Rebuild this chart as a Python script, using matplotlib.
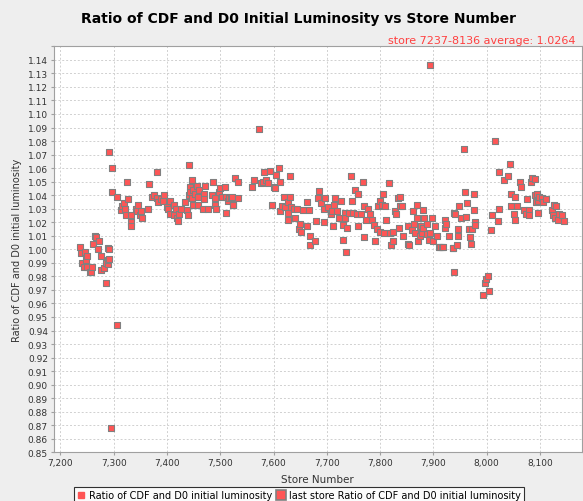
import matplotlib
matplotlib.use("Agg")
import matplotlib.pyplot as plt
from matplotlib.lines import Line2D
from matplotlib.ticker import MultipleLocator, FuncFormatter

#### data ####
stores = [
    7237, 7239, 7241, 7244, 7247, 7248, 7249, 7249, 7255, 7258, 7259, 7262, 7264, 7266,
    7270, 7272, 7276, 7277, 7281, 7286, 7286, 7289, 7289, 7290, 7292, 7292, 7292, 7294,
    7296, 7296, 7306, 7307, 7314, 7316, 7320, 7322, 7323, 7325, 7326, 7332, 7333, 7333,
    7341, 7344, 7346, 7349, 7352, 7353, 7365, 7366, 7372, 7375, 7381, 7381, 7384, 7389,
    7392, 7394, 7400, 7401, 7405, 7406, 7413, 7414, 7416, 7419, 7421, 7423, 7427, 7433,
    7438, 7440, 7441, 7441, 7443, 7444, 7447, 7447, 7448, 7448, 7452, 7456, 7458, 7458,
    7460, 7468, 7469, 7469, 7471, 7477, 7485, 7486, 7490, 7491, 7492, 7497, 7500, 7503,
    7508, 7511, 7511, 7515, 7516, 7521, 7522, 7523, 7524, 7528, 7534, 7534, 7560, 7563,
    7573, 7577, 7580, 7583, 7585, 7589, 7594, 7597, 7600, 7602, 7605, 7610, 7613, 7613,
    7616, 7619, 7622, 7627, 7627, 7628, 7630, 7630, 7633, 7638, 7641, 7644, 7647, 7650,
    7652, 7656, 7662, 7663, 7666, 7668, 7669, 7678, 7680, 7683, 7685, 7689, 7694, 7694,
    7697, 7703, 7707, 7710, 7712, 7714, 7716, 7719, 7722, 7727, 7730, 7731, 7735, 7735,
    7736, 7738, 7741, 7746, 7747, 7750, 7753, 7756, 7759, 7759, 7765, 7768, 7769, 7770,
    7774, 7778, 7782, 7785, 7788, 7791, 7794, 7796, 7799, 7800, 7803, 7805, 7807, 7810,
    7812, 7817, 7818, 7820, 7824, 7825, 7828, 7829, 7833, 7835, 7838, 7838, 7841, 7843,
    7853, 7853, 7855, 7860, 7862, 7863, 7866, 7869, 7870, 7872, 7874, 7875, 7876, 7878,
    7881, 7881, 7883, 7888, 7888, 7891, 7893, 7893, 7898, 7900, 7904, 7907, 7910, 7912,
    7917, 7918, 7921, 7921, 7923, 7929, 7936, 7937, 7938, 7939, 7941, 7944, 7947, 7947,
    7949, 7951, 7957, 7960, 7962, 7964, 7966, 7969, 7970, 7972, 7977, 7977, 7979, 7979,
    7993, 7997, 7999, 8002, 8004, 8008, 8010, 8016, 8022, 8024, 8024, 8033, 8040, 8043,
    8045, 8046, 8051, 8054, 8054, 8057, 8062, 8064, 8071, 8074, 8076, 8080, 8080, 8084,
    8085, 8090, 8091, 8093, 8094, 8096, 8097, 8099, 8103, 8105, 8112, 8122, 8124, 8127,
    8128, 8131, 8134, 8136, 8142, 8145,
]
ratios = [
    1.002, 0.997, 0.990, 0.987, 0.998, 0.992, 0.995, 0.987, 0.983, 0.983, 0.987, 1.004, 1.010, 1.009,
    1.000, 1.006, 0.985, 0.995, 0.986, 0.990, 0.975, 1.001, 0.989, 0.992, 0.993, 1.000, 1.072, 0.868,
    1.060, 1.042, 1.039, 0.944, 1.029, 1.032, 1.034, 1.030, 1.025, 1.050, 1.037, 1.020, 1.025, 1.017,
    1.030, 1.028, 1.033, 1.025, 1.028, 1.023, 1.030, 1.048, 1.039, 1.040, 1.057, 1.038, 1.035, 1.037,
    1.036, 1.040, 1.031, 1.030, 1.036, 1.026, 1.033, 1.025, 1.030, 1.023, 1.021, 1.026, 1.030, 1.035,
    1.029, 1.025, 1.062, 1.040, 1.046, 1.042, 1.051, 1.038, 1.044, 1.033, 1.041, 1.047, 1.039, 1.033,
    1.044, 1.030, 1.041, 1.037, 1.047, 1.030, 1.040, 1.050, 1.033, 1.038, 1.030, 1.042, 1.045, 1.039,
    1.046, 1.039, 1.027, 1.036, 1.038, 1.038, 1.039, 1.033, 1.033, 1.053, 1.050, 1.038, 1.046, 1.051,
    1.089, 1.049, 1.050, 1.057, 1.051, 1.049, 1.058, 1.033, 1.046, 1.045, 1.055, 1.060, 1.050, 1.028,
    1.032, 1.039, 1.031, 1.035, 1.022, 1.027, 1.054, 1.039, 1.031, 1.030, 1.023, 1.030, 1.015, 1.019,
    1.013, 1.029, 1.035, 1.017, 1.029, 1.003, 1.010, 1.006, 1.021, 1.038, 1.043, 1.034, 1.030, 1.020,
    1.038, 1.031, 1.026, 1.028, 1.017, 1.033, 1.038, 1.028, 1.023, 1.036, 1.007, 1.018, 1.027, 1.023,
    0.998, 1.016, 1.027, 1.054, 1.036, 1.027, 1.044, 1.026, 1.041, 1.017, 1.026, 1.050, 1.032, 1.009,
    1.022, 1.030, 1.026, 1.022, 1.018, 1.006, 1.015, 1.032, 1.013, 1.036, 1.033, 1.041, 1.012, 1.032,
    1.022, 1.049, 1.012, 1.003, 1.006, 1.013, 1.028, 1.026, 1.038, 1.016, 1.032, 1.039, 1.032, 1.010,
    1.004, 1.017, 1.003, 1.014, 1.028, 1.019, 1.012, 1.033, 1.023, 1.006, 1.017, 1.010, 1.017, 1.012,
    1.016, 1.029, 1.023, 1.011, 1.019, 1.007, 1.136, 1.012, 1.023, 1.006, 1.017, 1.010, 1.002, 1.002,
    1.002, 1.002, 1.022, 1.016, 1.019, 1.010, 1.001, 1.001, 1.027, 0.983, 1.026, 1.003, 1.015, 1.010,
    1.032, 1.023, 1.074, 1.042, 1.024, 1.034, 1.015, 1.009, 1.004, 1.015, 1.041, 1.029, 1.020, 1.018,
    0.966, 0.975, 0.978, 0.980, 0.969, 1.014, 1.025, 1.080, 1.021, 1.057, 1.030, 1.051, 1.054, 1.063,
    1.032, 1.041, 1.026, 1.039, 1.022, 1.032, 1.050, 1.046, 1.029, 1.026, 1.037, 1.029, 1.025, 1.050,
    1.053, 1.052, 1.040, 1.035, 1.041, 1.027, 1.036, 1.039, 1.038, 1.035, 1.037, 1.029, 1.025, 1.033,
    1.023, 1.032, 1.022, 1.026, 1.025, 1.021,
]

title = 'Ratio of CDF and D0 Initial Luminosity vs Store Number'
subtitle = 'store 7237-8136 average: 1.0264'
series_name = 'Ratio of CDF and D0 initial luminosity'
last_name = 'last store Ratio of CDF and D0 initial luminosity'

red = '#ff5555'
edge = '#808080'

fig = plt.figure(figsize=(5.83, 5.02), dpi=100, facecolor='#eeeeee')
ax = fig.add_axes([53.5/583, 1-453.3/502, (582-53.5)/583, (453.3-47.3)/502])
ax.set_facecolor('white')

ax.scatter(stores, ratios, marker='s', s=18, facecolor=red, edgecolor=edge,
           linewidths=0.8, zorder=3)

ax.set_xlim(7187, 8179)
ax.set_ylim(0.85, 1.15)
ax.xaxis.set_major_locator(MultipleLocator(100))
ax.yaxis.set_major_locator(MultipleLocator(0.01))
ax.xaxis.set_major_formatter(FuncFormatter(lambda v, p: f'{v:,.0f}'))
ax.yaxis.set_major_formatter(FuncFormatter(lambda v, p: f'{v:.2f}' if v < 1.145 else ''))
ax.grid(True, color='#d0d0d0', linestyle=(0, (2, 2)), linewidth=0.7, zorder=0)
for s in ax.spines.values():
    s.set_color('#a0a0a0')
ax.tick_params(labelsize=6.5, length=2.5, color='#a0a0a0', pad=1.5, labelcolor='#333333')

ax.set_xlabel('Store Number', fontsize=7.5, color='#333333', labelpad=5)
ax.set_ylabel(series_name, fontsize=7, color='#333333', labelpad=4)

fig.text(299/583, 1-19/502, title, ha='center', va='center', fontsize=10,
         fontweight='bold', color='black')
fig.text(576/583, 1-41/502, subtitle, ha='right', va='center', fontsize=8, color='#ff4040')

h1 = Line2D([], [], marker='s', linestyle='none', markersize=4, markerfacecolor=red,
            markeredgecolor=red)
h2 = Line2D([], [], marker='s', linestyle='none', markersize=7, markerfacecolor=red,
            markeredgecolor=edge, markeredgewidth=1.2)
leg = fig.legend([h1, h2], [series_name, last_name], loc='upper center',
                 bbox_to_anchor=(299/583, 1-488/502), ncol=2, fontsize=7,
                 frameon=True, fancybox=False, edgecolor='black', facecolor='white',
                 handlelength=0.8, handletextpad=0.4, columnspacing=0.5,
                 borderpad=0.35, borderaxespad=0)
leg.get_frame().set_linewidth(0.8)

fig.savefig('out.png', dpi=100, facecolor=fig.get_facecolor())
